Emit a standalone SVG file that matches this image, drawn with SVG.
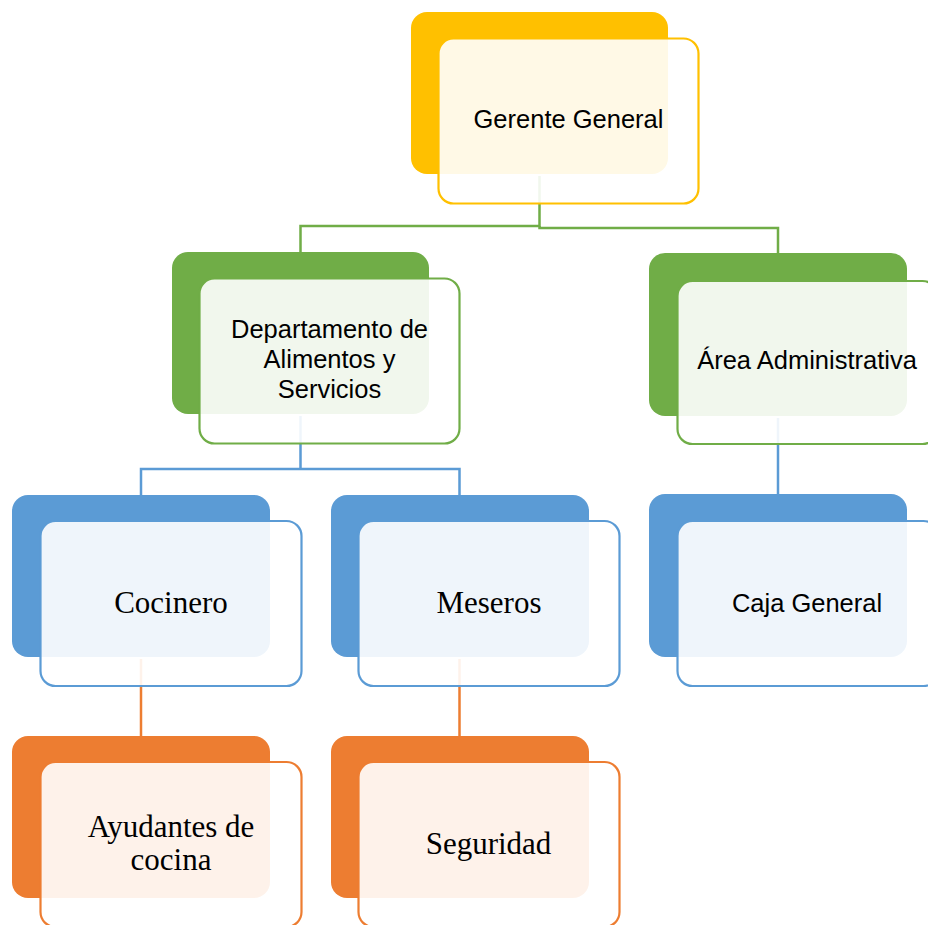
<svg xmlns="http://www.w3.org/2000/svg" width="928" height="925" viewBox="0 0 928 925">
<style>
.bk{stroke:none}
.fr{fill:#ffffff;fill-opacity:0.9;stroke-width:2.2}
.y .bk{fill:#FFC000}.y .fr{stroke:#FFC000}
.g .bk{fill:#70AD47}.g .fr{stroke:#70AD47}
.b .bk{fill:#5B9BD5}.b .fr{stroke:#5B9BD5}
.o .bk{fill:#ED7D31}.o .fr{stroke:#ED7D31}
.sans{font-family:"Liberation Sans",Arial,sans-serif;font-size:25.5px;fill:#000;text-anchor:middle}
.serif{font-family:"Liberation Serif","Times New Roman",serif;font-size:31px;fill:#000;text-anchor:middle}
.c{fill:none;stroke-width:2.5}
</style>
<rect width="928" height="925" fill="#ffffff"/>
<g id="connectors">
<path class="c" stroke="#70AD47" d="M539.5,176 V226 H300.5 V252"/>
<path class="c" stroke="#70AD47" d="M539.5,226 V228 H778 V253"/>
<path class="c" stroke="#5B9BD5" d="M300.5,416 V469 H141 V495 M300.5,469 H459.5 V495"/>
<path class="c" stroke="#5B9BD5" d="M778,418 V494"/>
<path class="c" stroke="#ED7D31" d="M141,659 V736"/>
<path class="c" stroke="#ED7D31" d="M459.5,659 V736"/>
</g>
<g id="gerente" class="y">
<rect class="bk" x="411" y="12" width="257" height="162" rx="16"/>
<rect class="fr" x="438.5" y="38.5" width="260" height="165" rx="15"/>
<text class="sans" x="568.5" y="128">Gerente General</text>
</g>
<g id="departamento" class="g">
<rect class="bk" x="172" y="252" width="257" height="162" rx="16"/>
<rect class="fr" x="199.5" y="278.5" width="260" height="165" rx="15"/>
<text class="sans" x="329.5" y="338">Departamento de</text>
<text class="sans" x="329.5" y="368">Alimentos y</text>
<text class="sans" x="329.5" y="398">Servicios</text>
</g>
<g id="area" class="g">
<rect class="bk" x="649" y="253" width="258" height="163" rx="16"/>
<rect class="fr" x="677.5" y="281" width="260" height="163" rx="15"/>
<text class="sans" x="807" y="369">Área Administrativa</text>
</g>
<g id="cocinero" class="b">
<rect class="bk" x="12" y="495" width="258" height="162" rx="16"/>
<rect class="fr" x="40.5" y="521" width="261" height="165" rx="15"/>
<text class="serif" x="171" y="613">Cocinero</text>
</g>
<g id="meseros" class="b">
<rect class="bk" x="331" y="495" width="258" height="162" rx="16"/>
<rect class="fr" x="358.5" y="521" width="261" height="165" rx="15"/>
<text class="serif" x="489" y="613">Meseros</text>
</g>
<g id="caja" class="b">
<rect class="bk" x="649" y="494" width="258" height="163" rx="16"/>
<rect class="fr" x="677.5" y="521" width="261" height="165" rx="15"/>
<text class="sans" x="807" y="612">Caja General</text>
</g>
<g id="ayudantes" class="o">
<rect class="bk" x="12" y="736" width="258" height="162" rx="16"/>
<rect class="fr" x="40.5" y="762" width="261" height="165" rx="15"/>
<text class="serif" x="171" y="837">Ayudantes de</text>
<text class="serif" x="171" y="870">cocina</text>
</g>
<g id="seguridad" class="o">
<rect class="bk" x="331" y="736" width="258" height="162" rx="16"/>
<rect class="fr" x="358.5" y="762" width="261" height="165" rx="15"/>
<text class="serif" x="488.5" y="854">Seguridad</text>
</g>
</svg>
